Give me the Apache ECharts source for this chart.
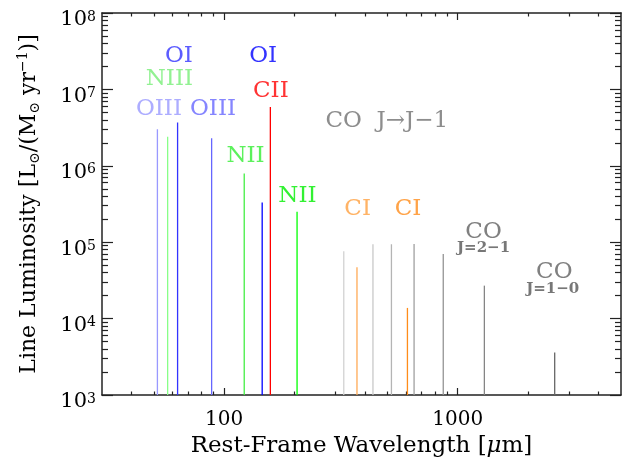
<!DOCTYPE html>
<html>
<head>
<meta charset="utf-8">
<script src="https://cdn.jsdelivr.net/npm/echarts@6/dist/echarts.min.js"></script>
<style>
  html, body { margin: 0; padding: 0; background: #fff; }
  #chart { width: 629px; height: 463px; }
</style>
</head>
<body>
<div id="chart"></div>
<script>
// line wavelengths (micron) and luminosities
var lineNames = ["OIII 52", "NIII 57", "OI 63", "OIII 88", "NII 122", "OI 145", "CII 158", "NII 205",
  "CO 8-7", "CI 370", "CO 6-5", "CO 5-4", "CI 609", "CO 4-3", "CO 3-2", "CO 2-1", "CO 1-0"];
var wavelengths = [51.8, 57.3, 63.2, 88.4, 121.9, 145.5, 157.7, 205.2,
  325.2, 370.4, 433.6, 520.2, 609.1, 650.3, 867.0, 1300.4, 2600.8];
var luminosities = [3.0e6, 2.4e6, 3.7e6, 2.3e6, 7.9e5, 3.3e5, 5.9e6, 2.5e5,
  7.6e4, 4.7e4, 9.4e4, 9.4e4, 1.38e4, 9.5e4, 7.0e4, 2.7e4, 3.6e3];
var xTicks = [100, 1000];
var yTicks = [1e3, 1e4, 1e5, 1e6, 1e7, 1e8];

// styles, same order as lines
var lineColors = ["#9999ff", "#88ff88", "#3333ff", "#6666ff", "#44ee44", "#0000ff", "#ff0000", "#00ff00",
  "#d2d2d2", "#ffaa55", "#c8c8c8", "#b4b4b4", "#ff8c1a", "#a0a0a0", "#949494", "#858585", "#666666"];

var X_MIN = 30, X_MAX = 5000, Y_MIN = 1e3, Y_MAX = 1e8;
var FONT = "DejaVu Serif";

// minor tick values for log axes
function minorTicks(lo, hi) {
  var out = [];
  for (var d = 1; d <= hi; d *= 10) {
    for (var k = 2; k <= 9; k++) {
      var v = k * d;
      if (v > lo && v < hi) out.push(v);
    }
  }
  return out;
}
var xMinor = minorTicks(X_MIN, X_MAX);
var yMinor = minorTicks(Y_MIN, Y_MAX);

// text annotations, in data coordinates
var annotations = [
  { text: "OI", x: 64, y: 2.75e7, color: "#3333ff" },
  { text: "OI", x: 147, y: 2.75e7, color: "#0000ff" },
  { text: "NIII", x: 58.3, y: 1.37e7, color: "#77ee77" },
  { text: "CII", x: 158.5, y: 9.5e6, color: "#ff0000" },
  { text: "OIII", x: 52.6, y: 5.5e6, color: "#9999ff" },
  { text: "OIII", x: 89.6, y: 5.5e6, color: "#6666ff" },
  { text: "NII", x: 123.5, y: 1.34e6, color: "#33ee33" },
  { text: "NII", x: 206, y: 4.0e5, color: "#00ee00" },
  { text: "CO  J\u2192J\u22121", x: 497, y: 3.9e6, color: "#707070" },
  { text: "CI", x: 373, y: 2.72e5, color: "#ffa040" },
  { text: "CI", x: 613, y: 2.72e5, color: "#ff8c1a" },
  { text: "CO", x: 1290, y: 1.37e5, color: "#606060" },
  { text: "J=2\u22121", x: 1290, y: 8.4e4, color: "#555555", small: true },
  { text: "CO", x: 2590, y: 4.07e4, color: "#606060" },
  { text: "J=1\u22120", x: 2550, y: 2.4e4, color: "#555555", small: true }
];

var chart = echarts.init(document.getElementById("chart"), null, { renderer: "canvas" });

var axisLineStyle = { color: "#222", width: 1.5 };
var tickStyle = { color: "#222", width: 1.2 };

function xAxisDef(pos, ticks, len, showLine, showLabel) {
  return {
    type: "log", min: X_MIN, max: X_MAX, position: pos,
    axisLine: { show: showLine, onZero: false, lineStyle: axisLineStyle },
    axisTick: { show: true, inside: true, length: len, customValues: ticks, lineStyle: tickStyle },
    axisLabel: showLabel ? {
      customValues: xTicks, fontFamily: FONT, fontSize: 20, color: "#000", margin: 15,
      formatter: function (v) { return String(Math.round(v)); }
    } : { show: false },
    splitLine: { show: false }
  };
}
function yAxisDef(pos, ticks, len, showLine, showLabel) {
  return {
    type: "log", min: Y_MIN, max: Y_MAX, position: pos,
    axisLine: { show: showLine, onZero: false, lineStyle: axisLineStyle },
    axisTick: { show: true, inside: true, length: len, customValues: ticks, lineStyle: tickStyle },
    axisLabel: showLabel ? {
      customValues: yTicks,
      margin: 6,
      padding: [14, 0, 0, 0],
      formatter: function (v) {
        var e = Math.round(Math.log(v) / Math.LN10);
        return "{b|10}{s|" + e + "}";
      },
      rich: {
        b: { fontFamily: FONT, fontSize: 21, color: "#000", lineHeight: 20 },
        s: { fontFamily: FONT, fontSize: 14, color: "#000", verticalAlign: "top", lineHeight: 14 }
      }
    } : { show: false },
    splitLine: { show: false }
  };
}

var xAxes = [
  xAxisDef("bottom", xTicks, 7, true, true),
  xAxisDef("bottom", xMinor, 3.5, false, false),
  xAxisDef("top", xTicks, 7, true, false),
  xAxisDef("top", xMinor, 3.5, false, false)
];
xAxes[0].name = "{a|Rest-Frame Wavelength [}{m|\u03bc}{a|m]}";
xAxes[0].nameLocation = "middle";
xAxes[0].nameGap = 33;
xAxes[0].nameTextStyle = {
  rich: {
    a: { fontFamily: FONT, fontSize: 23, color: "#000" },
    m: { fontFamily: FONT, fontSize: 23, color: "#000", fontStyle: "italic" }
  }
};

var yAxes = [
  yAxisDef("left", yTicks, 11, true, true),
  yAxisDef("left", yMinor, 6, false, false),
  yAxisDef("right", yTicks, 11, true, false),
  yAxisDef("right", yMinor, 6, false, false)
];
yAxes[0].name = "{a|Line Luminosity [L}{s|\u2299}{a|/(M}{s|\u2299}{a| yr}{p|\u22121}{a|)]}";
yAxes[0].nameLocation = "middle";
yAxes[0].nameGap = 60;
yAxes[0].nameTextStyle = {
  rich: {
    a: { fontFamily: FONT, fontSize: 22, color: "#000", lineHeight: 26 },
    s: { fontFamily: FONT, fontSize: 14, color: "#000", verticalAlign: "bottom", lineHeight: 26 },
    p: { fontFamily: FONT, fontSize: 14, color: "#000", verticalAlign: "top", lineHeight: 26 }
  }
};

var option = {
  backgroundColor: "#fff",
  animation: false,
  grid: { left: 102, right: 8, top: 13, bottom: 68, containLabel: false },
  xAxis: xAxes,
  yAxis: yAxes,
  series: [
    {
      type: "custom",
      name: "lines",
      xAxisIndex: 0,
      yAxisIndex: 0,
      data: wavelengths.map(function (w, i) { return { name: lineNames[i], value: [w, luminosities[i]] }; }),
      renderItem: function (params, api) {
        var top = api.coord([api.value(0), api.value(1)]);
        var base = api.coord([api.value(0), Y_MIN]);
        return {
          type: "line",
          shape: { x1: top[0], y1: top[1], x2: base[0], y2: base[1] },
          style: { stroke: lineColors[params.dataIndex], lineWidth: 1.3 }
        };
      },
      z: 2
    },
    {
      type: "scatter",
      name: "labels",
      xAxisIndex: 0,
      yAxisIndex: 0,
      symbolSize: 0,
      silent: true,
      data: annotations.map(function (a) {
        return {
          value: [a.x, a.y],
          name: a.text,
          label: {
            show: true,
            position: "inside",
            formatter: a.text,
            color: a.color,
            fontFamily: FONT,
            fontSize: a.small ? 15 : 23,
            fontWeight: a.small ? "bold" : "normal"
          }
        };
      }),
      z: 3
    }
  ]
};
chart.setOption(option);
</script>
</body>
</html>
